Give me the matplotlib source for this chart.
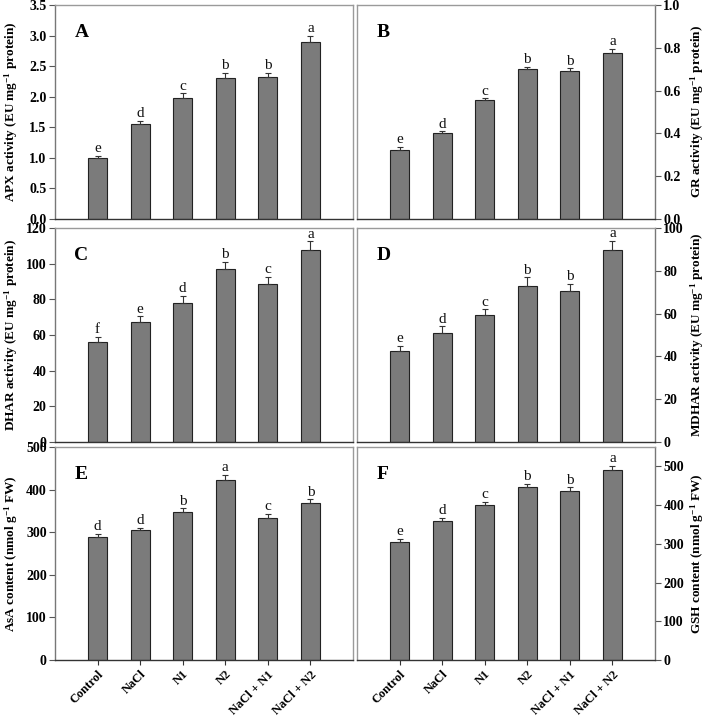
import matplotlib
matplotlib.use("Agg")
import matplotlib.pyplot as plt
import numpy as np

plt.rcParams['font.family'] = ['Liberation Serif', 'DejaVu Serif']
plt.rcParams['mathtext.fontset'] = 'custom'
plt.rcParams['mathtext.rm'] = 'Liberation Serif:bold'
plt.rcParams['mathtext.bf'] = 'Liberation Serif:bold'
plt.rcParams['mathtext.default'] = 'bf'

categories = ["Control", "NaCl", "N1", "N2", "NaCl + N1", "NaCl + N2"]

apx = [1.00, 1.56, 1.98, 2.30, 2.32, 2.90]
apx_err = [0.03, 0.045, 0.075, 0.09, 0.065, 0.10]
apx_let = ["e", "d", "c", "b", "b", "a"]

gr = [0.321, 0.400, 0.556, 0.701, 0.692, 0.774]
gr_err = [0.015, 0.010, 0.008, 0.011, 0.012, 0.022]
gr_let = ["e", "d", "c", "b", "b", "a"]

dhar = [55.9, 67.2, 78.2, 96.8, 88.7, 107.9]
dhar_err = [3.0, 3.2, 3.8, 4.3, 4.0, 4.7]
dhar_let = ["f", "e", "d", "b", "c", "a"]

mdhar = [42.5, 51.1, 59.3, 72.9, 70.6, 89.6]
mdhar_err = [2.4, 2.9, 2.7, 4.1, 3.3, 4.4]
mdhar_let = ["e", "d", "c", "b", "b", "a"]

asa = [288, 304, 348, 423, 334, 368]
asa_err = [8, 7, 8, 11, 9, 9]
asa_let = ["d", "d", "b", "a", "c", "b"]

gsh = [304, 359, 400, 446, 436, 490]
gsh_err = [9, 8, 8, 9, 10, 12]
gsh_let = ["e", "d", "c", "b", "b", "a"]

panels = [
    ("A", apx, apx_err, apx_let, (0, 3.5), np.arange(0, 3.51, 0.5), "%.1f",
     r"APX activity (EU mg$^{-1}$ protein)", "left"),
    ("B", gr, gr_err, gr_let, (0, 1.0), np.arange(0, 1.01, 0.2), "%.1f",
     r"GR activity (EU mg$^{-1}$ protein)", "right"),
    ("C", dhar, dhar_err, dhar_let, (0, 120), np.arange(0, 121, 20), "%d",
     r"DHAR activity (EU mg$^{-1}$ protein)", "left"),
    ("D", mdhar, mdhar_err, mdhar_let, (0, 100), np.arange(0, 101, 20), "%d",
     r"MDHAR activity (EU mg$^{-1}$ protein)", "right"),
    ("E", asa, asa_err, asa_let, (0, 500), np.arange(0, 501, 100), "%d",
     r"AsA content (nmol g$^{-1}$ FW)", "left"),
    ("F", gsh, gsh_err, gsh_let, (0, 550), np.arange(0, 501, 100), "%d",
     r"GSH content (nmol g$^{-1}$ FW)", "right"),
]

W, H = 709, 717
fig = plt.figure(figsize=(W / 100, H / 100), dpi=100)

lefts = [55, 357]
rows = [(5, 219), (228, 442), (447, 660)]
x = np.arange(1, 7)

for i, (lab, vals, errs, lets, ylim, yt, fmt, ylab, side) in enumerate(panels):
    r, c = divmod(i, 2)
    top, bot = rows[r]
    ax = fig.add_axes([lefts[c] / W, 1 - bot / H, 298 / W, (bot - top) / H])
    ax.bar(x, vals, width=0.45, color="#7b7b7b", edgecolor="#222222",
           linewidth=0.8, zorder=2)
    ax.errorbar(x, vals, yerr=[np.zeros(6), errs], fmt="none",
                ecolor="#333333", elinewidth=0.8, capsize=2.3, capthick=0.8,
                zorder=3)
    for xi, v, e, l in zip(x, vals, errs, lets):
        ax.annotate(l, (xi, v + e), xytext=(0, 0.5), textcoords="offset points",
                    ha="center", va="bottom", fontsize=11, color="#111111")
    ax.set_xlim(0, 7)
    ax.set_ylim(*ylim)
    ax.set_yticks(yt)
    ax.set_yticklabels([fmt % t for t in yt], fontsize=10, fontweight="bold")
    ax.set_xticks(x)
    ax.tick_params(axis="y", direction="out", length=4, width=0.8,
                   color="#555555", pad=2)
    if r == 2:
        ax.set_xticklabels(categories, rotation=45, ha="right",
                           rotation_mode="anchor", fontsize=9,
                           fontweight="bold")
        ax.tick_params(axis="x", direction="out", length=3.5, width=0.8,
                       color="#333333", pad=2.5)
    else:
        ax.set_xticklabels([])
        ax.tick_params(axis="x", length=0)
    for s in ax.spines.values():
        s.set_color("#9a9a9a")
        s.set_linewidth(1.0)
    ax.spines["bottom"].set_color("#333333")
    if side == "right":
        ax.yaxis.tick_right()
        ax.yaxis.set_label_position("right")
        ax.spines["right"].set_color("#777777")
        ax.set_ylabel(ylab, fontsize=9.5, fontweight="bold", rotation=90)
        ax.yaxis.set_label_coords(1.112, 0.5)
    else:
        ax.spines["left"].set_color("#777777")
        ax.set_ylabel(ylab, fontsize=9.5, fontweight="bold")
        ax.yaxis.set_label_coords(-0.117, 0.5)
    ax.text(0.065, 0.87, lab, transform=ax.transAxes, fontsize=14,
            fontweight="bold", ha="left", va="center")

fig.savefig("out.png", dpi=100)
